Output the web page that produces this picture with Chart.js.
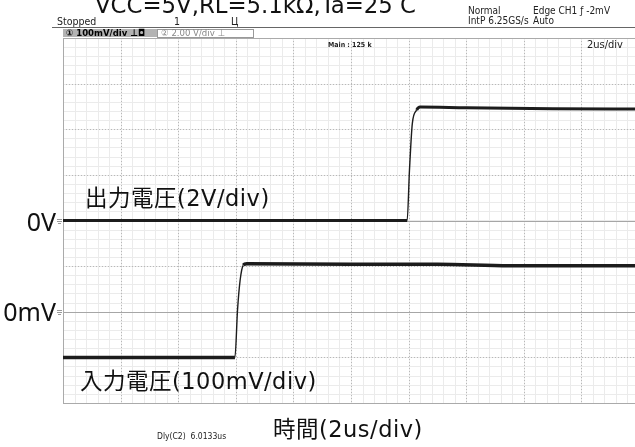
<!DOCTYPE html>
<html>
<head>
<meta charset="utf-8">
<title>VCC=5V,RL=5.1kΩ,Ta=25 C</title>
<script src="https://cdn.jsdelivr.net/npm/chart.js"></script>
<style>
  html, body { margin:0; padding:0; background:#fff; overflow:hidden; width:635px; height:447px; }
  #wrap { position:relative; width:635px; height:447px; overflow:hidden; }
  canvas { position:absolute; left:0; top:0; }
  .t { position:absolute; white-space:nowrap; color:#111; }
  .jp { font-family:"DejaVu Sans","Noto Sans CJK JP",sans-serif; letter-spacing:0.5px; }
  .zero { font-family:"Noto Sans","Noto Sans CJK JP",sans-serif; }
  .ui { font-family:"Liberation Sans Narrow","DejaVu Sans Condensed","Arial Narrow","Liberation Sans",sans-serif; font-stretch:condensed; color:#222; }
</style>
</head>
<body>
<div id="wrap">
  <canvas id="scope" width="640" height="447"></canvas>

  <!-- title, cut at top like the original -->
  <div class="t" style="left:95px; top:-6px; font-family:'DejaVu Sans',sans-serif; font-size:22.8px; line-height:23px;">VCC=5V,RL=5.1kΩ,Ta=25 C</div>

  <!-- scope status line -->
  <div class="t ui" style="left:57px; top:16px; font-size:10.5px; line-height:10px;">Stopped</div>
  <div class="t ui" style="left:174px; top:16px; font-size:10.5px; line-height:10px;">1</div>
  <div class="t ui" style="left:231px; top:16px; font-size:10.5px; line-height:10px;">Ц</div>
  <div class="t ui" style="left:468px; top:6px; font-size:10px; line-height:10px;">Normal</div>
  <div class="t ui" style="left:468px; top:16px; font-size:10px; line-height:10px;">IntP 6.25GS/s</div>
  <div class="t ui" style="left:533px; top:6px; font-size:10px; line-height:10px;">Edge CH1 ƒ -2mV</div>
  <div class="t ui" style="left:533px; top:16px; font-size:10px; line-height:10px;">Auto</div>
  <div style="position:absolute; left:52px; top:27px; width:590px; height:1px; background:#666;"></div>

  <div style="position:absolute; left:63px; top:29px; width:94px; height:8px; background:#b3b3b3;"></div>
  <div class="t ui" style="left:66px; top:28px; font-size:9.5px; line-height:10px; color:#000; font-weight:bold;">① 100mV/div ⊥◘</div>
  <div style="position:absolute; left:157px; top:29px; width:95px; height:7px; border:1px solid #999; background:#fff;"></div>
  <div class="t ui" style="left:161px; top:28px; font-size:9.5px; line-height:10px; color:#888;">② 2.00 V/div ⊥</div>

  <div class="t ui" style="left:328px; top:41px; font-size:7px; line-height:8px; font-weight:bold;">Main : 125 k</div>
  <div class="t ui" style="left:587px; top:40px; font-size:11px; line-height:10px;">2us/div</div>

  <!-- channel labels -->
  <div class="t jp" style="left:85px; top:187px; font-size:22.5px; line-height:22.5px;">出力電圧(2V/div)</div>
  <div class="t zero" style="left:0; width:56px; text-align:right; top:209px; font-size:25px; line-height:25px;">0V</div>
  <div class="t zero" style="left:0; width:56px; text-align:right; top:299px; font-size:25px; line-height:25px;">0mV</div>
  <div class="t jp" style="left:80px; top:370px; font-size:22.5px; line-height:22.5px;">入力電圧(100mV/div)</div>

  <div class="t jp" style="left:273px; top:418px; font-size:22.5px; line-height:22.5px;">時間(2us/div)</div>
  <div class="t ui" style="left:157px; top:432px; font-size:8.5px; line-height:9px;">Dly(C2)&nbsp;&nbsp;6.0133us</div>
</div>

<script>
// time axis: 10 div x 2us
const timeTicks = [0, 20];
const timeStepMinor = 0.4, timeStepMajor = 2;

// output (CH2, 2V/div)
const outTime = [0, 11.95, 12.03, 12.13, 12.28, 12.40, 14.0, 17.0, 20.0];
const outVolt = [0, 0, 2.2, 4.26, 4.84, 4.97, 4.94, 4.90, 4.89];

// input (CH1, 100mV/div)
const inTime = [0, 5.97, 6.06, 6.15, 6.26, 6.38, 10.0, 13.0, 15.5, 20.0];
const inMilliVolt = [-100, -100, 4, 69, 102, 105, 104, 104, 101, 101];

// vertical ranges, 8 div each
const outRange = [-8, 8];      // V, 0V at centre
const inRange = [-200, 600];   // mV, 0mV two div below centre

const toPoints = (xs, ys) => xs.map((x, i) => ({ x: x, y: ys[i] }));

// steep edges look thin on the scope, flat parts look like a noisy band
const edgeWidth = (flat) => (c) => {
  const dy = Math.abs(c.p1.y - c.p0.y), dx = Math.abs(c.p1.x - c.p0.x);
  return dy > dx * 3 ? 1.4 : flat;
};

// graticule drawn from the scales
const scopeGrid = {
  id: 'scopeGrid',
  beforeDatasetsDraw(chart) {
    const { ctx, chartArea: a, scales } = chart;
    const sx = scales.x, sy = scales.y, sy2 = scales.y2;
    const px = v => Math.round(v) + 0.5;
    ctx.save();
    ctx.lineWidth = 1;

    // minor lines
    ctx.strokeStyle = '#ebebeb';
    ctx.beginPath();
    for (let i = 0; i * timeStepMinor <= timeTicks[1] + 1e-9; i++) {
      const x = px(sx.getPixelForValue(i * timeStepMinor));
      ctx.moveTo(x, a.top); ctx.lineTo(x, a.bottom);
    }
    for (let v = outRange[0]; v <= outRange[1] + 1e-9; v += 0.4) {
      const y = px(sy.getPixelForValue(v));
      ctx.moveTo(a.left, y); ctx.lineTo(a.right, y);
    }
    ctx.stroke();

    // major dotted lines
    ctx.strokeStyle = '#b8b8b8';
    ctx.setLineDash([1, 2]);
    ctx.beginPath();
    for (let t = timeTicks[0]; t <= timeTicks[1]; t += timeStepMajor) {
      const x = px(sx.getPixelForValue(t));
      ctx.moveTo(x, a.top); ctx.lineTo(x, a.bottom);
    }
    for (let v = outRange[0]; v <= outRange[1]; v += 2) {
      const y = px(sy.getPixelForValue(v));
      ctx.moveTo(a.left, y); ctx.lineTo(a.right, y);
    }
    ctx.stroke();
    ctx.setLineDash([]);

    // channel zero markers
    ctx.strokeStyle = '#a6a6a6';
    ctx.beginPath();
    [sy.getPixelForValue(0), sy2.getPixelForValue(0)].forEach(y => {
      ctx.moveTo(a.left, px(y)); ctx.lineTo(a.right, px(y));
    });
    ctx.stroke();

    // small ground marks at the left edge
    ctx.strokeStyle = '#999';
    ctx.beginPath();
    [sy.getPixelForValue(0), sy2.getPixelForValue(0)].forEach(y => {
      const yy = px(y);
      ctx.moveTo(a.left - 6, yy - 2); ctx.lineTo(a.left - 1, yy - 2);
      ctx.moveTo(a.left - 6, yy); ctx.lineTo(a.left - 1, yy);
      ctx.moveTo(a.left - 5, yy + 2); ctx.lineTo(a.left - 2, yy + 2);
    });
    ctx.stroke();

    // frame
    ctx.strokeStyle = '#aaaaaa';
    ctx.strokeRect(px(a.left), px(a.top), Math.round(a.right - a.left), Math.round(a.bottom - a.top));
    ctx.restore();
  }
};

new Chart(document.getElementById('scope').getContext('2d'), {
  type: 'line',
  data: {
    datasets: [
      {
        label: '出力電圧',
        data: toPoints(outTime, outVolt),
        yAxisID: 'y',
        borderColor: '#1c1c1c',
        borderWidth: 3,
        segment: { borderWidth: edgeWidth(3) }
      },
      {
        label: '入力電圧',
        data: toPoints(inTime, inMilliVolt),
        yAxisID: 'y2',
        borderColor: '#1c1c1c',
        borderWidth: 3.5,
        segment: { borderWidth: edgeWidth(3.5) }
      }
    ]
  },
  options: {
    responsive: false,
    animation: false,
    parsing: false,
    layout: { padding: { left: 63, top: 38, right: 1, bottom: 44 } },
    elements: {
      point: { radius: 0 },
      line: { cubicInterpolationMode: 'monotone', borderJoinStyle: 'round' }
    },
    plugins: { legend: { display: false }, tooltip: { enabled: false } },
    scales: {
      x: { type: 'linear', min: timeTicks[0], max: timeTicks[1], display: false },
      y: { min: outRange[0], max: outRange[1], display: false },
      y2: { min: inRange[0], max: inRange[1], display: false }
    }
  },
  plugins: [scopeGrid]
});
</script>
</body>
</html>
